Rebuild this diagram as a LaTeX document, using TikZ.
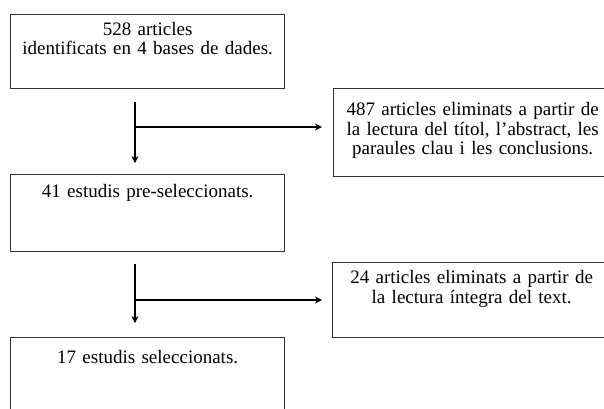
\documentclass[tikz,border=0pt]{standalone}
\usepackage{fontspec}
\setmainfont{Liberation Serif}
\usepackage{tikz}
\usetikzlibrary{arrows.meta}

\begin{document}
\begin{tikzpicture}
    % Define styles
    \tikzstyle{leftbox} = [rectangle, anchor=north west, text width=266pt, inner sep=4pt, align=center, draw=black!80, line width=1.3pt, font=\fontsize{19}{18.5}\selectfont]
    \tikzstyle{rightbox} = [rectangle, anchor=north west, text width=270pt, inner sep=4pt, align=center, draw=black!80, line width=1.3pt, font=\fontsize{19}{19.5}\selectfont]
    \tikzstyle{arrow} = [line width=1.2pt, ->, >={Stealth[length=7pt,width=7pt]}]

    \useasboundingbox (0,0) rectangle (604pt,-408pt);
    \clip (0,0) rectangle (604pt,-408pt);

    % Nodes
    \node (ident) [leftbox, text height=17pt, text depth=49pt] at (10pt,-14pt) {528 articles\\identificats en 4 bases de dades.};
    \node (elim1) [rightbox, text height=23pt, text depth=57pt] at (333pt,-88pt) {487 articles eliminats a partir de\\la lectura del títol, l’abstract, les\\paraules clau i les conclusions.};
    \node (presel) [leftbox, text height=19pt, text depth=50pt] at (10pt,-174pt) {41 estudis pre-seleccionats.};
    \node (elim2) [rightbox, text height=17pt, text depth=50pt] at (332pt,-262pt) {24 articles eliminats a partir de\\la lectura íntegra del text.};
    \node (sel) [leftbox, text height=22pt, text depth=53pt] at (10pt,-337pt) {17 estudis seleccionats.};

    % Split points
    \coordinate (split1) at (135pt,-127pt);
    \coordinate (split2) at (135pt,-300pt);

    % Arrows
    \draw [arrow, shorten <=13pt, shorten >=11pt] (ident.south -| split1) -- (presel.north -| split1);
    \draw [arrow, shorten >=11pt] (split1) -- (elim1.west |- split1);
    \draw [arrow, shorten <=12pt, shorten >=14pt] (presel.south -| split2) -- (sel.north -| split2);
    \draw [arrow, shorten >=10pt] (split2) -- (elim2.west |- split2);
\end{tikzpicture}
\end{document}
